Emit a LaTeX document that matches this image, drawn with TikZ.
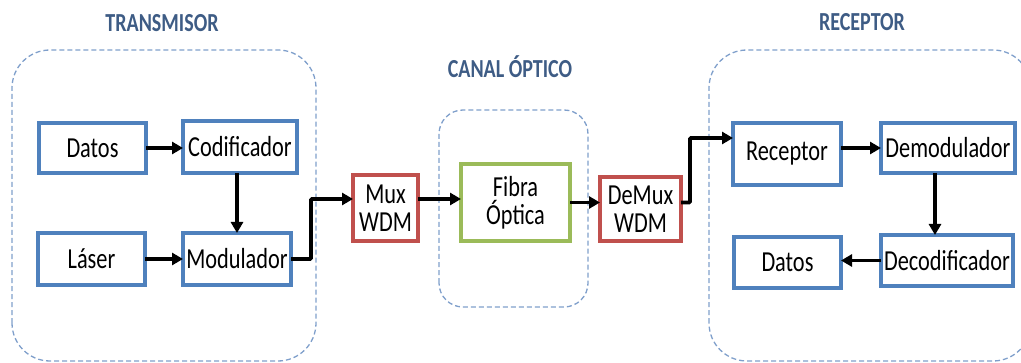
\documentclass[tikz,border=0pt]{standalone}
\usepackage{fontspec}
\setmainfont{Carlito}[FakeStretch=0.77]
\usetikzlibrary{arrows.meta}
\definecolor{boxblue}{HTML}{4F81BD}
\definecolor{boxred}{HTML}{C0504D}
\definecolor{boxgreen}{HTML}{9BBB59}
\definecolor{dashblue}{HTML}{7F9FCB}
\definecolor{titleblue}{HTML}{3E5C85}
\begin{document}
\begin{tikzpicture}[x=1pt,y=1pt,
  blk/.style={draw=#1, line width=4pt, fill=white, inner sep=0pt, outer sep=0pt,
              align=center, font=\fontsize{29}{28}\selectfont},
  blk/.default=boxblue,
  arr/.style={draw=black, line width=3.6pt, -{Triangle[length=11pt,width=12pt]}},
  region/.style={draw=dashblue, line width=1.3pt, dash pattern=on 5pt off 3pt},
  title/.style={text=titleblue, font=\bfseries\fontsize{26}{26}\selectfont}]
\useasboundingbox (0,0) rectangle (1021,362);
\clip (0,0) rectangle (1021,362);

% dashed groupings
\draw[region, rounded corners=38pt] (12,1) rectangle (316,312);
\draw[region, rounded corners=24pt] (439,55) rectangle (588,252);
\draw[region, rounded corners=38pt] (709,1) rectangle (1031,312);

% group titles
\node[title] (tTx) at (162,339) {TRANSMISOR};
\node[title] (tCh) at (510,295) {CANAL ÓPTICO};
\node[title] (tRx) at (862,340) {RECEPTOR};

% transmitter
\node[blk, minimum width=107pt, minimum height=50pt] (datosT) at (92.5,214) {Datos};
\node[blk, minimum width=114pt, minimum height=52pt] (cod) at (240,215) {Codificador};
\node[blk, minimum width=107pt, minimum height=52pt] (laser) at (91.5,103) {Láser};
\node[blk, minimum width=108pt, minimum height=52pt] (mod) at (237,103) {Modulador};

% optical channel
\node[blk=boxred, minimum width=65pt, minimum height=66pt] (mux) at (385.5,154) {Mux\\WDM};
\node[blk=boxgreen, minimum width=109pt, minimum height=77pt] (fibra) at (515.5,159.5) {Fibra\\Óptica};
\node[blk=boxred, minimum width=81pt, minimum height=64pt] (demux) at (640.5,153) {DeMux\\WDM};

% receiver
\node[blk, minimum width=108pt, minimum height=62pt] (recep) at (787,208) {Receptor};
\node[blk, minimum width=134pt, minimum height=50pt] (demod) at (948,214) {Demodulador};
\node[blk, minimum width=132pt, minimum height=51pt] (decod) at (947,101.5) {Decodificador};
\node[blk, minimum width=107pt, minimum height=51pt] (datosR) at (787.5,99.5) {Datos};

% connection points
\coordinate (muxIn) at ([yshift=9pt]mux.west);
\coordinate (muxOut) at ([yshift=9pt]mux.east);
\coordinate (recIn) at ([yshift=16pt]recep.west);
\coordinate (demodOut) at ([xshift=-13pt]demod.south);

% signal flow
\draw[arr] (datosT.east) -- (datosT.east -| cod.west);
\draw[arr] (cod.south -| mod.north) -- (mod.north);
\draw[arr] (laser.east) -- (laser.east -| mod.west);
\draw[arr, rounded corners=1pt] (mod.east) -- ++(20,0) |- (muxIn);
\draw[arr] (muxOut) -- (muxOut -| fibra.west);
\draw[arr] (fibra.east) -- (fibra.east -| demux.west);
\draw[arr, rounded corners=1pt] (fibra.east -| demux.east) -- ++(9,0) |- (recIn);
\draw[arr] (demod.west -| recep.east) -- (demod.west);
\draw[arr] (demodOut) -- (demodOut |- decod.north);
\draw[arr] (decod.west) -- (decod.west -| datosR.east);
\end{tikzpicture}
\end{document}
